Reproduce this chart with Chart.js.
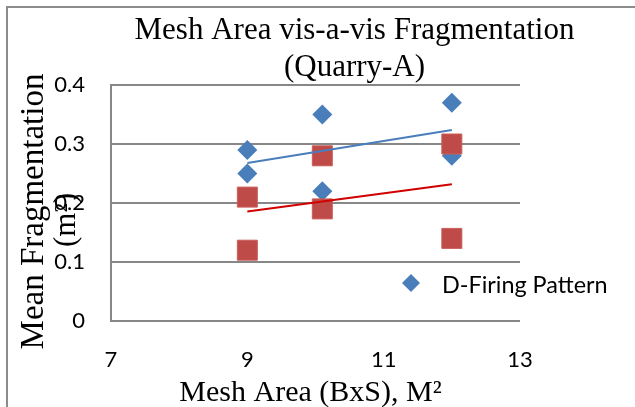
<!DOCTYPE html>
<html>
<head>
<meta charset="utf-8">
<script src="https://cdn.jsdelivr.net/npm/chart.js@4/dist/chart.umd.min.js"></script>
<style>
  html, body { margin: 0; padding: 0; background: #fff; }
  #wrap { width: 635px; height: 407px; position: relative; }
</style>
</head>
<body>
<div id="wrap"><canvas id="c" width="635" height="407"></canvas></div>
<script>
// Mesh area (BxS) of each blast, in m²
const meshArea = [9, 9, 10.1, 10.1, 12, 12];
// Mean fragment size for the D-firing pattern
const dFiring = [0.29, 0.25, 0.35, 0.22, 0.37, 0.28];
// Mean fragment size for the second firing pattern
const otherFiring = [0.21, 0.12, 0.28, 0.19, 0.30, 0.14];

const xTicks = [7, 9, 11, 13];
const yTicks = [0, 0.1, 0.2, 0.3, 0.4];

const titleLines = ['Mesh Area vis-a-vis Fragmentation', '(Quarry-A)'];
const xTitle = 'Mesh Area (BxS), M²';
const yTitleLines = ['Mean Fragmentation', '(m²)'];
const legendLabel = 'D-Firing Pattern';

const BLUE = '#4a7ebb';
const RED = '#be4b48';
const TREND_RED = '#d00000';
const GRID = '#878787';
const SANS = 'Lato, "Open Sans", sans-serif';
const SERIF = '"Liberation Serif", "Times New Roman", serif';

const toPoints = (xs, ys) => xs.map((x, i) => ({ x, y: ys[i] }));

// Least-squares straight line through a series, spanning its x range
function linearTrend(xs, ys) {
  const n = xs.length;
  const mx = xs.reduce((a, b) => a + b, 0) / n;
  const my = ys.reduce((a, b) => a + b, 0) / n;
  let sxy = 0, sxx = 0;
  for (let i = 0; i < n; i++) {
    sxy += (xs[i] - mx) * (ys[i] - my);
    sxx += (xs[i] - mx) * (xs[i] - mx);
  }
  const slope = sxy / sxx;
  const x0 = Math.min(...xs), x1 = Math.max(...xs);
  return [
    { x: x0, y: my + slope * (x0 - mx) },
    { x: x1, y: my + slope * (x1 - mx) }
  ];
}

// Frame, titles and the single legend entry
const decorations = {
  id: 'decorations',
  beforeDraw(chart) {
    const ctx = chart.ctx;
    ctx.save();
    ctx.fillStyle = '#fff';
    ctx.fillRect(0, 0, chart.width, chart.height);
    ctx.strokeStyle = '#8c8c8c';
    ctx.lineWidth = 2;
    ctx.beginPath();
    ctx.moveTo(7, chart.height + 2);
    ctx.lineTo(7, 7);
    ctx.lineTo(chart.width + 2, 7);
    ctx.stroke();
    ctx.restore();
  },
  afterDraw(chart) {
    const ctx = chart.ctx;
    ctx.save();
    ctx.fillStyle = '#000';
    ctx.textBaseline = 'alphabetic';

    // chart title
    ctx.font = '31px ' + SERIF;
    ctx.textAlign = 'center';
    ctx.fillText(titleLines[0], 354.5, 39);
    ctx.fillText(titleLines[1], 354.5, 76);

    // x axis title
    ctx.font = '30px ' + SERIF;
    ctx.fillText(xTitle, 310.5, 401);

    // y axis title (rotated)
    ctx.save();
    ctx.translate(43, 211.5);
    ctx.rotate(-Math.PI / 2);
    ctx.font = '33px ' + SERIF;
    ctx.fillText(yTitleLines[0], 0, 0);
    ctx.restore();
    ctx.save();
    ctx.translate(75, 220);
    ctx.rotate(-Math.PI / 2);
    ctx.font = '31px ' + SERIF;
    ctx.fillText(yTitleLines[1], 0, 0);
    ctx.restore();

    // legend entry
    const lx = 411, ly = 283, r = 9;
    ctx.fillStyle = BLUE;
    ctx.beginPath();
    ctx.moveTo(lx - r, ly);
    ctx.lineTo(lx, ly - r);
    ctx.lineTo(lx + r, ly);
    ctx.lineTo(lx, ly + r);
    ctx.closePath();
    ctx.fill();
    ctx.fillStyle = '#000';
    ctx.font = '23.4px ' + SANS;
    ctx.textAlign = 'left';
    ctx.textBaseline = 'middle';
    ctx.fillText(legendLabel, 442, 285);
    ctx.restore();
  }
};

new Chart(document.getElementById('c'), {
  type: 'scatter',
  data: {
    datasets: [
      {
        label: legendLabel + ' trend',
        type: 'line',
        data: linearTrend(meshArea, dFiring),
        borderColor: BLUE,
        borderWidth: 2,
        pointRadius: 0,
        fill: false,
        order: 0
      },
      {
        label: 'Second pattern trend',
        type: 'line',
        data: linearTrend(meshArea, otherFiring),
        borderColor: TREND_RED,
        borderWidth: 2,
        pointRadius: 0,
        fill: false,
        order: 0
      },
      {
        label: 'Second pattern',
        data: toPoints(meshArea, otherFiring),
        pointStyle: 'rect',
        pointRadius: 14.14,
        backgroundColor: RED,
        borderColor: '#c85e5b',
        borderWidth: 1,
        order: 1
      },
      {
        label: legendLabel,
        data: toPoints(meshArea, dFiring),
        pointStyle: 'rectRot',
        pointRadius: 10,
        backgroundColor: BLUE,
        borderWidth: 0,
        order: 2
      }
    ]
  },
  options: {
    responsive: false,
    animation: false,
    events: [],
    layout: { padding: { top: 85, right: 115, left: 0, bottom: 0 } },
    plugins: {
      legend: { display: false },
      title: { display: false },
      tooltip: { enabled: false }
    },
    scales: {
      x: {
        type: 'linear',
        min: 7,
        max: 13,
        afterBuildTicks: s => { s.ticks = xTicks.map(v => ({ value: v })); },
        afterFit: s => { s.height = 86; },
        grid: { display: false, drawTicks: false },
        border: { display: false },
        ticks: { color: '#000', font: { family: SANS, size: 22 }, padding: 26, maxRotation: 0 }
      },
      y: {
        type: 'linear',
        min: 0,
        max: 0.4,
        afterBuildTicks: s => { s.ticks = yTicks.map(v => ({ value: v })); },
        afterFit: s => { s.width = 111; },
        grid: { color: GRID, lineWidth: 2, drawTicks: false },
        border: { display: true, color: GRID, width: 2 },
        ticks: { color: '#000', font: { family: SANS, size: 22 }, padding: 26, callback: v => String(v) }
      }
    }
  },
  plugins: [decorations]
});
</script>
</body>
</html>
